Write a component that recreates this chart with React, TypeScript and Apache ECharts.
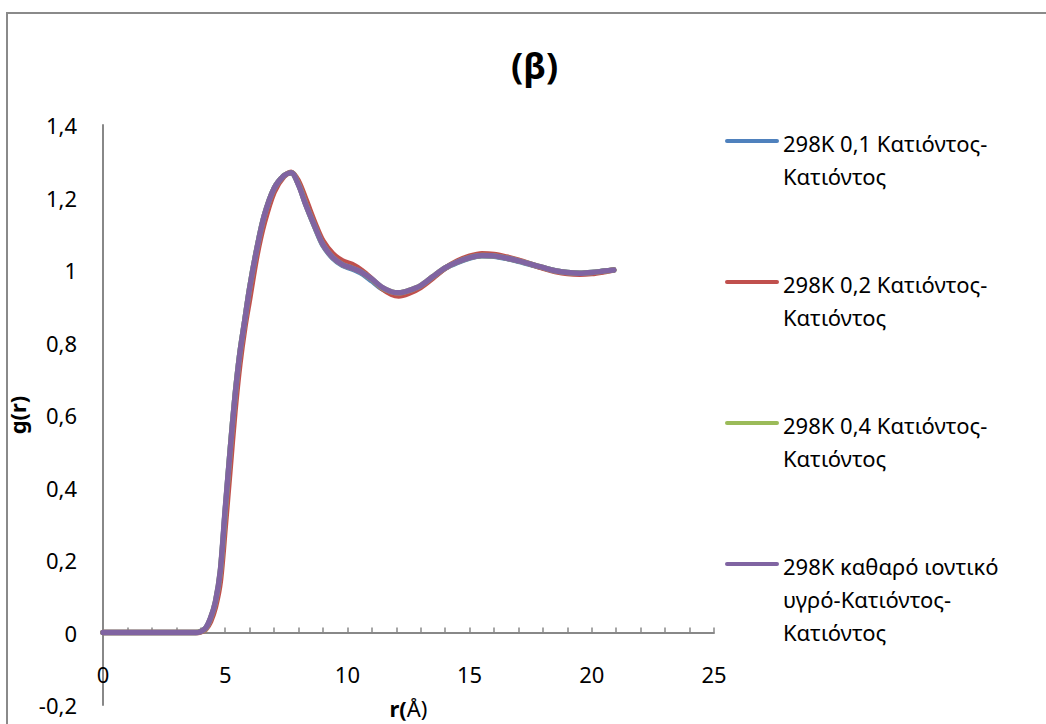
import React, { useEffect, useRef } from "react";
import * as echarts from "echarts";

const rValues = [0, 1, 2, 3, 3.8, 4.0, 4.2, 4.4, 4.6, 4.8, 5.0, 5.2, 5.4, 5.6, 5.8, 6.0, 6.3, 6.6, 7.0, 7.4, 7.7, 8.0, 8.3, 8.7, 9.0, 9.4, 9.8, 10.2, 10.6, 11.0, 11.4, 11.8, 12.1, 12.5, 13.0, 13.5, 14.0, 14.5, 15.0, 15.5, 16.0, 16.5, 17.0, 17.5, 18.0, 18.5, 19.0, 19.5, 20.0, 20.5, 20.9];

const g01 = [0, 0, 0, 0, 0, 0.003, 0.012, 0.038, 0.082, 0.165, 0.335, 0.5, 0.65, 0.77, 0.86, 0.95, 1.06, 1.15, 1.225, 1.26, 1.268, 1.236, 1.18, 1.113, 1.068, 1.033, 1.013, 1.003, 0.99, 0.97, 0.949, 0.937, 0.935, 0.941, 0.955, 0.98, 1.005, 1.021, 1.033, 1.039, 1.038, 1.032, 1.024, 1.015, 1.006, 0.998, 0.993, 0.991, 0.993, 0.997, 1.0];
const g02 = [0, 0, 0, 0, 0, 0.002, 0.009, 0.03, 0.07, 0.14, 0.29, 0.45, 0.61, 0.74, 0.84, 0.92, 1.04, 1.13, 1.215, 1.258, 1.27, 1.245, 1.195, 1.125, 1.08, 1.045, 1.025, 1.015, 0.998, 0.975, 0.95, 0.933, 0.928, 0.935, 0.952, 0.978, 1.005, 1.025, 1.038, 1.045, 1.043, 1.036, 1.027, 1.016, 1.005, 0.996, 0.99, 0.988, 0.99, 0.995, 1.0];
const g04 = [0, 0, 0, 0, 0, 0.003, 0.011, 0.039, 0.084, 0.168, 0.333, 0.5, 0.65, 0.77, 0.86, 0.95, 1.06, 1.15, 1.225, 1.26, 1.268, 1.236, 1.181, 1.115, 1.07, 1.035, 1.015, 1.005, 0.993, 0.974, 0.952, 0.94, 0.937, 0.943, 0.957, 0.982, 1.006, 1.022, 1.034, 1.04, 1.039, 1.033, 1.025, 1.016, 1.007, 0.998, 0.993, 0.991, 0.993, 0.997, 1.0];
const gPure = [0, 0, 0, 0, 0, 0.003, 0.012, 0.04, 0.085, 0.17, 0.34, 0.5, 0.65, 0.77, 0.86, 0.95, 1.06, 1.15, 1.225, 1.26, 1.268, 1.235, 1.18, 1.115, 1.07, 1.035, 1.015, 1.005, 0.993, 0.975, 0.953, 0.94, 0.937, 0.943, 0.957, 0.982, 1.006, 1.022, 1.034, 1.04, 1.039, 1.033, 1.025, 1.016, 1.007, 0.998, 0.993, 0.991, 0.993, 0.997, 1.0];

const seriesNames = [
  "298K 0,1 Κατιόντος-\nΚατιόντος",
  "298K 0,2 Κατιόντος-\nΚατιόντος",
  "298K 0,4 Κατιόντος-\nΚατιόντος",
  "298K καθαρό ιοντικό\nυγρό-Κατιόντος-\nΚατιόντος",
];
const seriesValues = [g01, g02, g04, gPure];
const seriesColors = ["#4F81BD", "#C0504D", "#9BBB59", "#8064A2"];

const xTicks = [0, 5, 10, 15, 20, 25];
const titleText = "(β)";

const FONT = "'Noto Sans', 'Open Sans', sans-serif";

const Y_MIN = -0.2;
const Y_MAX = 1.4;
const GRID_TOP = 125;
const GRID_BOTTOM = 19;
const CHART_H = 724;

export default function App() {
  const ref = useRef<HTMLDivElement>(null);
  useEffect(() => {
    document.body.style.margin = "0";
    const chart = echarts.init(ref.current!, null, { renderer: "svg" });
    const plotH = CHART_H - GRID_TOP - GRID_BOTTOM;
    // shift x axis (line, ticks, labels, name) up to y = 0
    const xAxisOffset = -(plotH * (0 - Y_MIN)) / (Y_MAX - Y_MIN);
    const legendGraphics: any[] = [];
    seriesNames.forEach((name, i) => {
      const cy = 141 + i * 141;
      legendGraphics.push({
        type: "line",
        shape: { x1: 727, y1: cy, x2: 777, y2: cy },
        style: { stroke: seriesColors[i], lineWidth: 4, lineCap: "round" },
      });
      legendGraphics.push({
        type: "text",
        x: 783,
        y: cy - 15,
        style: {
          text: name,
          font: `22px ${FONT}`,
          lineHeight: 33,
          fill: "#000",
          verticalAlign: "top",
          align: "left",
        },
      });
    });
    chart.setOption({
      animation: false,
      textStyle: { fontFamily: FONT },
      title: {
        text: titleText,
        left: 506,
        top: 42,
        textStyle: { fontSize: 36, fontWeight: "bold", color: "#000", fontFamily: FONT },
      },
      grid: {
        left: 103,
        right: 332,
        top: GRID_TOP,
        bottom: GRID_BOTTOM,
        containLabel: false,
        outerBoundsMode: "none",
      },
      xAxis: {
        type: "value",
        min: 0,
        max: 25,
        interval: 1,
        offset: xAxisOffset,
        name: "{b|r(}Å)",
        nameLocation: "middle",
        nameGap: 64,
        nameTextStyle: {
          fontSize: 22,
          color: "#000",
          fontFamily: FONT,
          rich: { b: { fontWeight: "bold", fontSize: 22, fontFamily: FONT, color: "#000" } },
        },
        axisLine: { onZero: false, lineStyle: { color: "#888888", width: 2 } },
        axisTick: { show: true, inside: true, length: 5, lineStyle: { color: "#888888", width: 1.5 } },
        axisLabel: {
          fontSize: 22,
          color: "#000",
          margin: 30,
          fontFamily: FONT,
          formatter: (v: number) => (xTicks.includes(v) ? String(v) : ""),
        },
        splitLine: { show: false },
      },
      yAxis: {
        type: "value",
        min: Y_MIN,
        max: Y_MAX,
        interval: 0.2,
        name: "g(r)",
        nameLocation: "middle",
        nameRotate: 90,
        nameGap: 74,
        nameTextStyle: { fontSize: 22, fontWeight: "bold", color: "#000", fontFamily: FONT },
        axisLine: { show: true, onZero: false, lineStyle: { color: "#888888", width: 2 } },
        axisTick: { show: false },
        axisLabel: {
          fontSize: 22,
          color: "#000",
          margin: 26,
          fontFamily: FONT,
          formatter: (v: number) => {
            const r = Math.round(v * 10) / 10;
            return r === 0 ? "0" : String(r).replace(".", ",");
          },
        },
        splitLine: { show: false },
      },
      graphic: [
        {
          type: "rect",
          shape: { x: 7, y: 13, width: 1200, height: 900 },
          style: { fill: "none", stroke: "#8a8a8a", lineWidth: 2 },
          silent: true,
        },
        ...legendGraphics,
      ],
      series: seriesNames.map((name, i) => ({
        name,
        type: "line",
        data: rValues.map((r, j) => [r, seriesValues[i][j]]),
        smooth: 0.3,
        showSymbol: false,
        symbol: "none",
        lineStyle: { color: seriesColors[i], width: 5.5, cap: "round", join: "round" },
        itemStyle: { color: seriesColors[i] },
      })),
    });
    return () => chart.dispose();
  }, []);
  return <div ref={ref} style={{ width: 1046, height: 724 }} />;
}
